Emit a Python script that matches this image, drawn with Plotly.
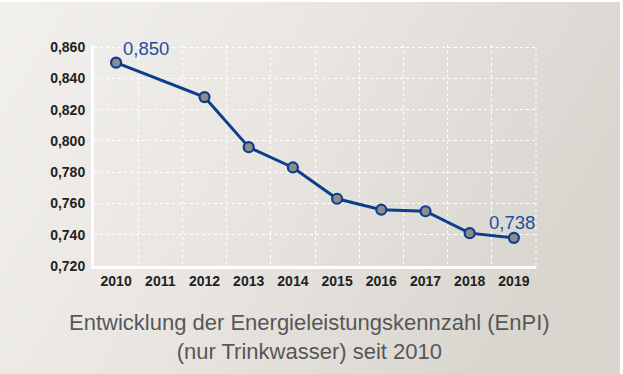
import base64
import plotly.graph_objects as go

years = ["2010", "2011", "2012", "2013", "2014", "2015", "2016", "2017", "2018", "2019"]
enpi = [0.850, None, 0.828, 0.796, 0.783, 0.763, 0.756, 0.755, 0.741, 0.738]
y_ticks = [0.72, 0.74, 0.76, 0.78, 0.80, 0.82, 0.84, 0.86]
title_lines = ["Entwicklung der Energieleistungskennzahl (EnPI)", "(nur Trinkwasser) seit 2010"]

W, H = 623, 374
L, R, T, B = 94, 87, 45, 108
pw, ph = W - L - R, H - T - B
Y0, Y1 = 0.72, 0.8613

svg = (
    '<svg xmlns="http://www.w3.org/2000/svg" width="623" height="374" preserveAspectRatio="none">'
    '<defs><linearGradient id="g" x1="0" y1="0" x2="1" y2="0.35">'
    '<stop offset="0" stop-color="#f2f0ed"/><stop offset="0.5" stop-color="#e9e6e2"/>'
    '<stop offset="1" stop-color="#d9d5cf"/></linearGradient></defs>'
    '<rect x="0" y="0" width="623" height="374" fill="#ffffff"/>'
    '<rect x="0" y="2" width="620" height="372" fill="url(#g)"/></svg>'
)
src = "data:image/svg+xml;base64," + base64.b64encode(svg.encode()).decode()

navy = "#0c3d8e"
fig = go.Figure()
fig.add_trace(go.Scatter(
    x=years, y=enpi, mode="lines+markers", connectgaps=True,
    line=dict(color=navy, width=3),
    marker=dict(size=10, color="#8c8c8c", line=dict(color=navy, width=2.2)),
    hoverinfo="skip", showlegend=False,
))

def fmt(v):
    return f"{v:.3f}".replace(".", ",")

lab_font = dict(family="Liberation Sans, Arial", size=18.5, color="#1d4f9e")
fig.add_annotation(x=0, y=enpi[0], text=fmt(enpi[0]), showarrow=False,
                   xanchor="left", yanchor="middle", xshift=5, yshift=14, font=lab_font)
fig.add_annotation(x=len(years) - 1, y=enpi[-1], text=fmt(enpi[-1]), showarrow=False,
                   xanchor="center", yanchor="middle", xshift=-2, yshift=15, font=lab_font)

title_font = dict(family="Liberation Sans, Arial", size=22, color="#575757")
fig.add_annotation(xref="paper", yref="paper", x=(309 - L) / pw, y=-(337 - (T + ph)) / ph,
                   text="<br>".join(title_lines), showarrow=False, xanchor="center", yanchor="middle",
                   font=title_font)

fig.add_layout_image(dict(source=src, xref="paper", yref="paper",
                          x=-L / pw, y=1 + T / ph, sizex=W / pw, sizey=H / ph,
                          xanchor="left", yanchor="top", sizing="stretch", layer="below"))

grid = dict(gridcolor="#ffffff", griddash="dot", gridwidth=1)
tick_font = dict(family="Liberation Sans, Arial", size=14, color="#222222", weight="bold")
fig.update_layout(
    width=W, height=H, margin=dict(l=L, r=R, t=T, b=B),
    paper_bgcolor="#ffffff", plot_bgcolor="rgba(0,0,0,0)",
    separators=", ",
    xaxis=dict(type="category", categoryorder="array", categoryarray=years,
               tickson="boundaries", showgrid=True, **grid, range=[-0.5, 9.5],
               showline=True, linecolor="#ffffff", linewidth=3, ticks="", zeroline=False,
               tickfont=tick_font, ticklabelstandoff=0),
    yaxis=dict(range=[Y0, Y1], tickvals=y_ticks, tickformat=".3f", showgrid=True, **grid,
               showline=True, linecolor="#ffffff", linewidth=3, ticks="", zeroline=False,
               tickfont=tick_font, ticklabelstandoff=3),
)
fig.add_shape(type="line", xref="paper", yref="paper", x0=1, x1=1, y0=0, y1=(0.86 - Y0) / (Y1 - Y0),
              line=dict(color="#ffffff", width=1, dash="dot"), layer="below")
fig.write_html("out.html", config={"displayModeBar": False},
               post_script="document.body.style.margin='0';document.body.style.padding='0';")
